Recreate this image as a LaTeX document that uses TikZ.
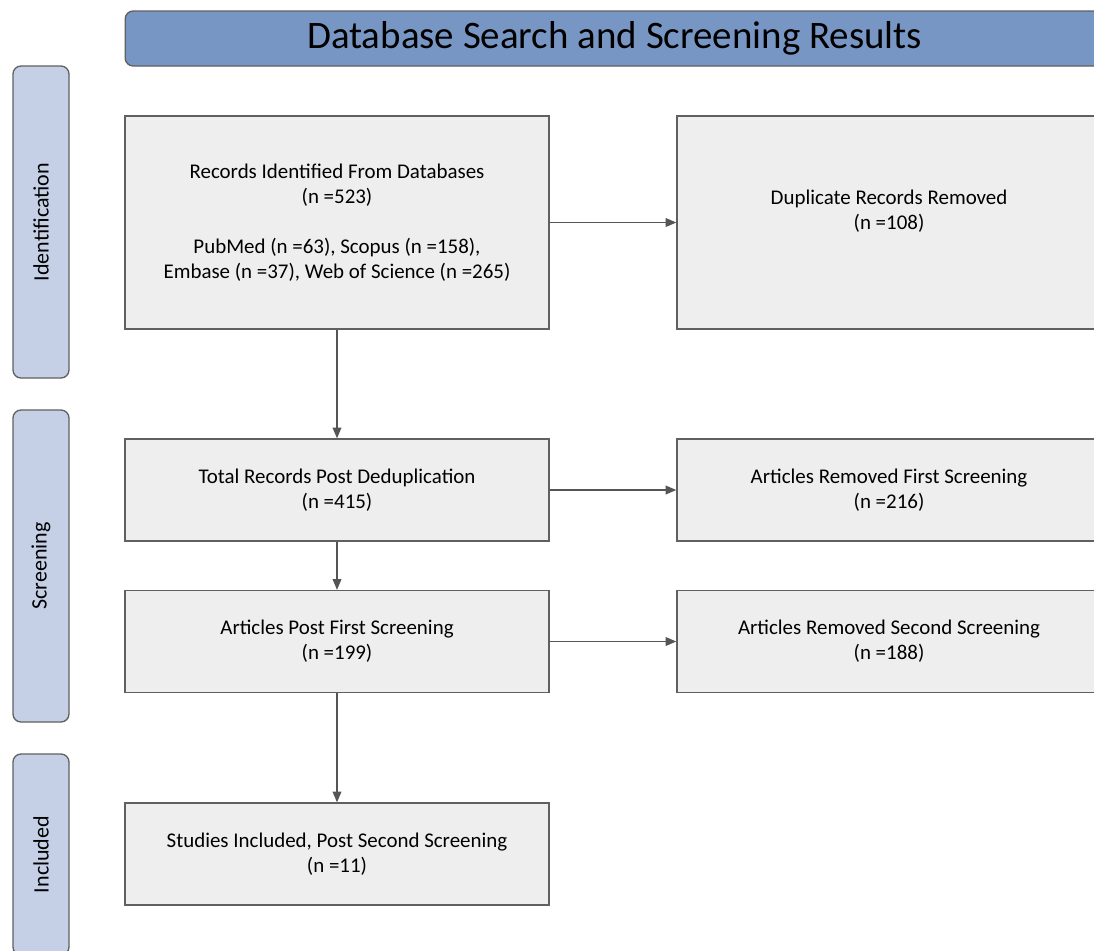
\documentclass[tikz,border=0pt]{standalone}
\usepackage{fontspec}
\setmainfont{Carlito}
\usetikzlibrary{arrows.meta}
\definecolor{head}{HTML}{7896C4}
\definecolor{side}{HTML}{C5D0E6}
\definecolor{edge}{HTML}{606060}
\definecolor{boxbg}{HTML}{EEEEEE}
\definecolor{flowc}{HTML}{555555}
\tikzset{
  box/.style={draw=edge, fill=boxbg, line width=1pt, minimum width=318pt, minimum height=76.5pt, inner sep=0pt, align=center, font=\fontsize{15.7}{18.75}\selectfont},
  tall/.style={box, minimum height=159.75pt},
  phase/.style={draw=edge, fill=side, line width=1pt, rounded corners=6pt, rotate=90, minimum width=234pt, minimum height=42pt, inner sep=0pt, font=\fontsize{16.5}{18}\selectfont},
  banner/.style={draw=edge, fill=head, line width=1pt, rounded corners=6pt, minimum width=734pt, minimum height=41.25pt, inner sep=0pt, font=\fontsize{29.2}{32}\selectfont},
  flow/.style={draw=flowc, line width=1pt, -{Triangle[length=8pt,width=6.5pt]}},
}
\begin{document}
\begin{tikzpicture}[x=0.75pt, y=-0.75pt]
  \useasboundingbox (0,0) rectangle (1094,950);
  \clip (0,0) rectangle (1094,950);
  % header and phase bars
  \node[banner] (top) at (614.5,38.5) {Database Search and Screening Results};
  \node[phase] (ident) at (41,222) {Identification};
  \node[phase] (screen) at (41,566) {Screening};
  \node[phase, minimum width=150.75pt] (incl) at (41,854.5) {Included};
  % left column
  \node[tall] (found) at (337,222.5) {Records Identified From Databases\\(n =523)\\[18.75pt]PubMed (n =63), Scopus (n =158),\\Embase (n =37), Web of Science (n =265)};
  \node[box] (dedup) at (337,490) {Total Records Post Deduplication\\(n =415)};
  \node[box] (first) at (337,641.5) {Articles Post First Screening\\(n =199)};
  \node[box] (final) at (337,854) {Studies Included, Post Second Screening\\(n =11)};
  % right column
  \node[tall] (dupl) at (889,222.5) {Duplicate Records Removed\\(n =108)\\\mbox{}};
  \node[box] (rem1) at (889,490) {Articles Removed First Screening\\(n =216)};
  \node[box] (rem2) at (889,641.5) {Articles Removed Second Screening\\(n =188)};
  % connectors
  \draw[flow] (found) -- (dupl);
  \draw[flow] (found) -- (dedup);
  \draw[flow] (dedup) -- (rem1);
  \draw[flow] (dedup) -- (first);
  \draw[flow] (first) -- (rem2);
  \draw[flow] (first) -- (final);
\end{tikzpicture}
\end{document}
